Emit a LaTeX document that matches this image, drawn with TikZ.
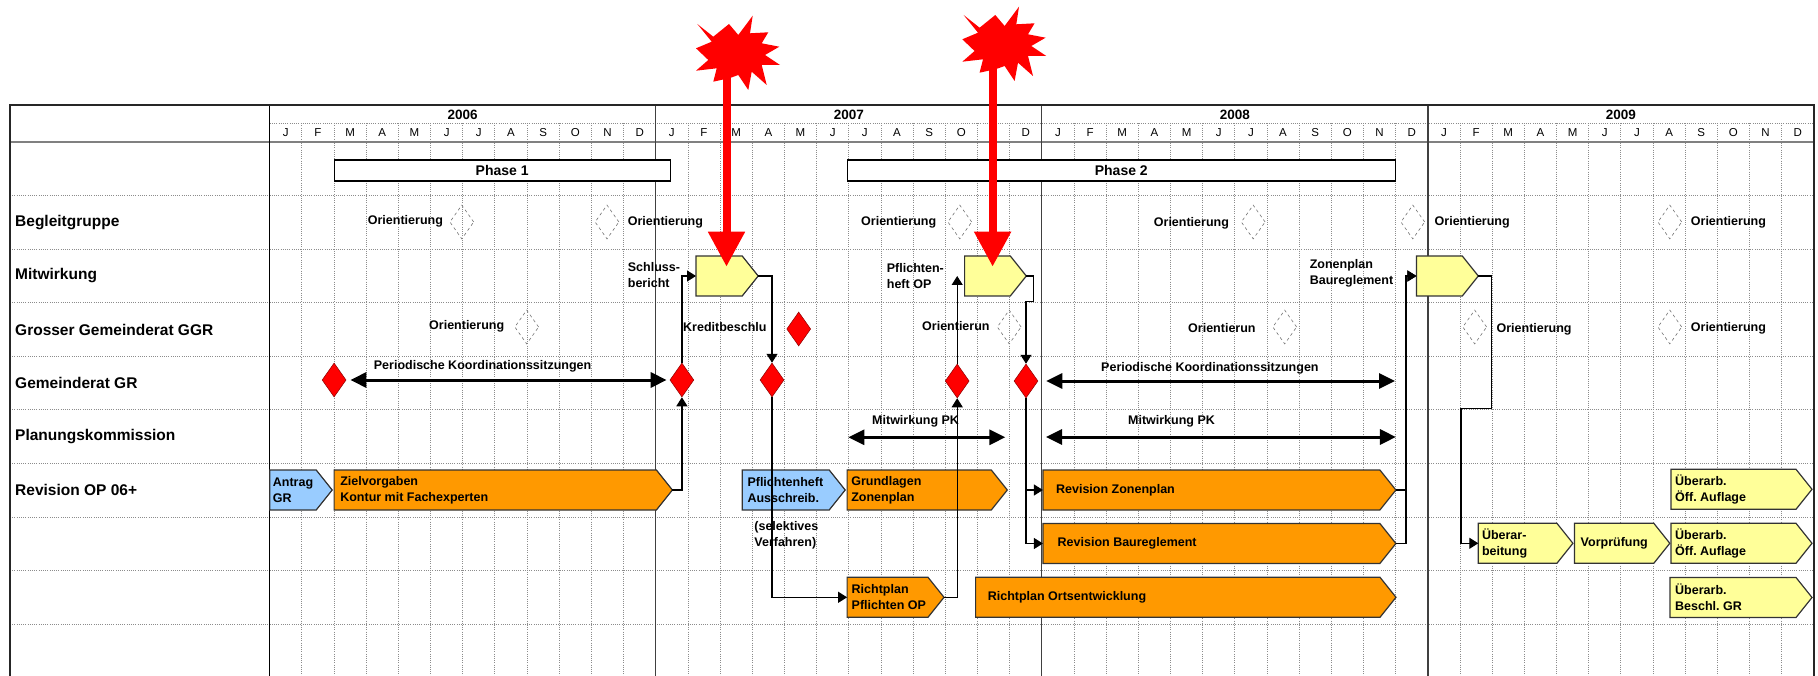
\documentclass[tikz,border=0pt]{standalone}
\usepackage{fontspec}
\setmainfont{Liberation Sans}
\usetikzlibrary{arrows.meta,shapes.geometric}
\frenchspacing

\definecolor{barorange}{HTML}{FF9900}
\definecolor{baryellow}{HTML}{FFFF99}
\definecolor{barblue}{HTML}{99CCFF}
\definecolor{gridgray}{HTML}{8C8C8C}

% task bar: name, left, tip, top, fill, text inset, text
\newcommand{\taskbox}[7]{%
  \draw[taskline, fill=#5] (#2,#4) -- (#3-16,#4) -- (#3,#4+20) -- (#3-16,#4+40) -- (#2,#4+40) -- cycle;
  \coordinate (#1-in) at (#2,#4+20);
  \coordinate (#1-tip) at (#3,#4+20);
  \node[note] (#1) at (#2+#6,#4+20) {#7};
}
% red explosion mark: name, x, y
\newcommand{\burst}[3]{%
  \coordinate (#1) at (#2,#3);
  \fill[red, shift={(#2,#3)}] (-40.7,-28) -- (-24.7,-15.3) -- (-9,-28) -- (0.3,-17) -- (14.7,-36.3) -- (12,-18.7) -- (30.3,-19.7) -- (23.7,-8.7) -- (41.3,-5.3) -- (27,3) -- (42,13) -- (23.7,13) -- (28.7,33) -- (13.7,19.7) -- (10.3,38) -- (0.3,23) -- (-8,26) -- (-24.7,29.7) -- (-21.3,16.3) -- (-42,18.7) -- (-29.7,8) -- (-42,-3.7) -- (-26.3,-10.3) -- cycle;
}

\begin{document}
\begin{tikzpicture}[x=1pt, y=-1pt,
    gridline/.style={gridgray, line width=0.8pt, dash pattern=on 1pt off 1.2pt},
    tableframe/.style={black!85, line width=1.8pt},
    rowlabel/.style={anchor=west, inner sep=0pt, font=\fontsize{15.5}{18}\selectfont\bfseries},
    note/.style={anchor=west, inner sep=0pt, align=left, font=\fontsize{12.5}{16}\selectfont\bfseries},
    gate/.style={diamond, draw=red!55!black, fill=red, line width=0.5pt, minimum width=24pt, minimum height=34pt, inner sep=0pt},
    orientmark/.style={diamond, draw=black!55, dashed, line width=0.6pt, minimum width=24pt, minimum height=34pt, inner sep=0pt},
    taskline/.style={draw=black!80, line width=1.2pt},
    conn/.style={black, line width=1.2pt, -{Triangle[width=11pt,length=9pt]}},
    runarrow/.style={black, line width=3pt, {Triangle[width=15pt,length=16pt]}-{Triangle[width=15pt,length=16pt]}},
    alarmarrow/.style={red, line width=8pt, -{Triangle[width=35pt,length=35pt]}},
    phasebox/.style={draw=black, line width=1.2pt, fill=white, minimum height=21pt, inner sep=0pt, font=\fontsize{14}{16}\selectfont\bfseries},
    yeartxt/.style={inner sep=0pt, font=\fontsize{13.5}{16}\selectfont\bfseries},
    monthtxt/.style={inner sep=0pt, font=\fontsize{11.5}{13}\selectfont}]
    \useasboundingbox (0,0) rectangle (1818,676);

    % Grid of months and rows
    \foreach \k in {1,...,47}
        \draw[gridline] ({269.7+\k*32.17},123.3) -- ({269.7+\k*32.17},676);
    \draw[gridline] (269.7,123.3) -- (1813.7,123.3);
    \foreach \r in {1,...,9}
        \draw[gridline] (10,{141.7+\r*53.61}) -- (1813.7,{141.7+\r*53.61});
    \draw[gray, line width=2pt] (10,141.7) -- (1813.7,141.7);
    \foreach \k in {12,24,36}
        \draw[black!75, line width=1.4pt] ({269.7+\k*32.17},104.7) -- ({269.7+\k*32.17},676);
    \draw[black, line width=1.4pt] (269.7,104.7) -- (269.7,676);
    \draw[tableframe] (10,676) -- (10,104.7) -- (1813.7,104.7) -- (1813.7,676);

    % Years and months
    \foreach \y [count=\i from 0] in {2006,...,2009}
        \node[yeartxt] (yr\y) at ({269.7+(12*\i+6)*32.17},114.5) {\y};
    \foreach \i in {0,...,3} {
        \foreach \m [count=\j from 0] in {J,F,M,A,M,J,J,A,S,O,N,D}
            \node[monthtxt] (mon\i-\j) at ({269.7+(12*\i+\j+0.5)*32.17},132.7) {\m};
    }

    % Row labels
    \node[rowlabel] (lblBegleit) at (15,222.5) {Begleitgruppe};
    \node[rowlabel] (lblMitw) at (15,276) {Mitwirkung};
    \node[rowlabel] (lblGGR) at (15,329.5) {Grosser Gemeinderat GGR};
    \node[rowlabel] (lblGR) at (15,383) {Gemeinderat GR};
    \node[rowlabel] (lblPK) at (15,436.7) {Planungskommission};
    \node[rowlabel] (lblRev) at (15,490) {Revision OP 06+};

    % Phases
    \node[phasebox, minimum width=336pt] (phaseA) at (502.2,170.6) {Phase 1};
    \node[phasebox, minimum width=548.4pt] (phaseB) at (1121.3,170.6) {Phase 2};

    % Task bars
    \taskbox{antrag}{269.7}{332.2}{470}{barblue}{3}{Antrag\\GR}
    \taskbox{ziel}{334.1}{672.4}{470}{barorange}{6}{Zielvorgaben\\Kontur mit Fachexperten}
    \taskbox{pflaus}{742.3}{845.2}{470}{barblue}{5}{Pflichtenheft\\Ausschreib.}
    \taskbox{grundl}{847.1}{1007.3}{470}{barorange}{4}{Grundlagen\\Zonenplan}
    \taskbox{revzp}{1042.9}{1395.9}{470}{barorange}{13}{Revision Zonenplan}
    \taskbox{revbr}{1042.9}{1395.9}{523.5}{barorange}{14.6}{Revision Baureglement}
    \taskbox{rpfl}{847.1}{944}{577.3}{barorange}{4.4}{Richtplan\\Pflichten OP}
    \taskbox{rort}{975.6}{1396}{577.3}{barorange}{12}{Richtplan Ortsentwicklung}
    \taskbox{uebA}{1671}{1812}{469.3}{baryellow}{4}{Überarb.\\Öff. Auflage}
    \taskbox{ueberarb}{1478.3}{1572.9}{523.3}{baryellow}{3.5}{Überar-\\beitung}
    \taskbox{vorpr}{1574.5}{1669.8}{523.3}{baryellow}{6}{Vorprüfung}
    \taskbox{uebB}{1671}{1812}{523.3}{baryellow}{4}{Überarb.\\Öff. Auflage}
    \taskbox{uebC}{1670}{1812}{577.5}{baryellow}{5}{Überarb.\\Beschl. GR}
    \taskbox{mitA}{696}{758.2}{256}{baryellow}{0}{}
    \taskbox{mitB}{964.6}{1026.3}{256}{baryellow}{0}{}
    \taskbox{mitC}{1416.4}{1478.3}{256}{baryellow}{0}{}
    \node[note] (selektiv) at (754.2,535) {(selektives\\Verfahren)};

    % Milestones
    \node[gate] (grA) at (334.1,380) {};
    \node[gate] (grB) at (681.9,380) {};
    \node[gate] (grC) at (772,380) {};
    \node[gate] (grD) at (957.2,381) {};
    \node[gate] (grE) at (1026,381) {};
    \node[gate] (kredit) at (798.7,329) {};
    \node[orientmark] (bgA) at (461.8,222) {};
    \node[orientmark] (bgB) at (607,222) {};
    \node[orientmark] (bgC) at (959.8,222) {};
    \node[orientmark] (bgD) at (1253.2,222) {};
    \node[orientmark] (bgE) at (1412.8,222) {};
    \node[orientmark] (bgF) at (1669.8,222) {};
    \node[orientmark] (ggA) at (526.7,327) {};
    \node[orientmark] (ggB) at (1009.2,327) {};
    \node[orientmark] (ggC) at (1284.7,327) {};
    \node[orientmark] (ggD) at (1474.7,327) {};
    \node[orientmark] (ggE) at (1669.8,327) {};

    % Milestone texts
    \node[note] (txtBgA) at (367.7,221.5) {Orientierung};
    \node[note] (txtBgB) at (627.7,222.5) {Orientierung};
    \node[note] (txtBgC) at (861,222) {Orientierung};
    \node[note] (txtBgD) at (1153.7,223) {Orientierung};
    \node[note] (txtBgE) at (1434.5,222) {Orientierung};
    \node[note] (txtBgF) at (1690.7,222) {Orientierung};
    \node[note] (txtGgA) at (429,326) {Orientierung};
    \node[note] (txtKredit) at (683,326.7) {Kreditbeschlu};
    \node[note] (txtGgB) at (922,326) {Orientierun};
    \node[note] (txtGgC) at (1188,328) {Orientierun};
    \node[note] (txtGgD) at (1496.4,329) {Orientierung};
    \node[note] (txtGgE) at (1690.7,328) {Orientierung};
    \node[note] (txtSchluss) at (627.7,274.7) {Schluss-\\bericht};
    \node[note] (txtPflOP) at (886.7,276) {Pflichten-\\heft OP};
    \node[note] (txtZonBau) at (1309.6,273.7) {Zonenplan\\Baureglement};
    \node[note] (txtKoordA) at (373.7,366) {Periodische Koordinationssitzungen};
    \node[note] (txtKoordB) at (1101,368.3) {Periodische Koordinationssitzungen};
    \node[note] (txtPkA) at (872,421.7) {Mitwirkung PK};
    \node[note] (txtPkB) at (1127.9,421) {Mitwirkung PK};

    % Periods
    \coordinate (koordEnd) at (1395.1,381);
    \coordinate (pkA1) at (848.3,437.3);
    \coordinate (pkA2) at (1005.3,437.3);
    \coordinate (pkB1) at (1046,437);
    \coordinate (pkB2) at (1395.9,437);
    \draw[runarrow] ([xshift=4pt]grA.east) -- ([xshift=-3pt]grB.west);
    \draw[runarrow] ([xshift=8pt]grE.east) -- (koordEnd);
    \draw[runarrow] (pkA1) -- (pkA2);
    \draw[runarrow] (pkB1) -- (pkB2);

    % Dependencies
    \draw[conn] (ziel-tip) -| (grB.south);
    \draw[conn] (grB.north) |- (mitA-in);
    \draw[conn] (mitA-tip) -| (grC.north);
    \draw[conn] (grC.south) |- (rpfl-in);
    \draw[conn] (rpfl-tip) -| (grD.south);
    \draw[conn] (grD.north) -- (grD.north |- mitB-in);
    \draw[conn] (mitB-tip) -- ++(7,0) -- ++(0,25.7) -| (grE.north);
    \draw[conn] (grE.south) |- (revzp-in);
    \draw[conn] (grE.south) |- (revbr-in);
    \draw[conn] (revzp-tip) -- ++(10,0) |- (mitC-in);
    \draw[conn] (revbr-tip) -- ++(10,0) |- (mitC-in);
    \draw[conn] (mitC-tip) -- ++(13.4,0) -- ++(0,132.3) -- ++(-30.7,0) |- (ueberarb-in);

    % Alarm marks
    \burst{burstA}{738}{52}
    \burst{burstB}{1004.3}{43}
    \coordinate (hitA) at (726.5,266.7);
    \coordinate (hitB) at (992.6,266.7);
    \draw[alarmarrow] (burstA -| hitA) -- (hitA);
    \draw[alarmarrow] (burstB -| hitB) -- (hitB);
\end{tikzpicture}
\end{document}
